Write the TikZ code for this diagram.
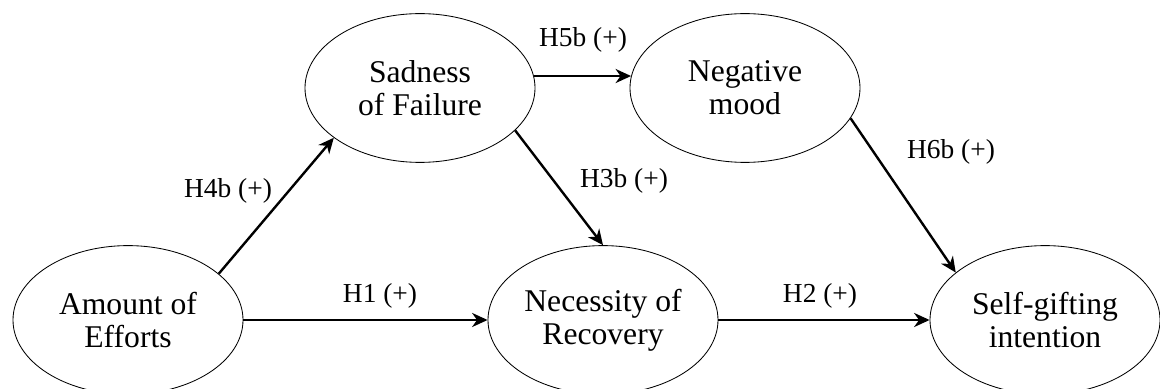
\documentclass[tikz,border=0pt]{standalone}
\usepackage{fontspec}
\setmainfont{Liberation Serif}
\usepackage{xcolor}
\usepackage{tikz}
\usetikzlibrary{arrows.meta,shapes.geometric}

\begin{document}
\begin{tikzpicture}[
    construct/.style={draw=black,line width=0.6pt,ellipse,inner sep=0pt,
                      minimum width=57.5mm,minimum height=37.2mm,align=center,
                      font=\fontsize{22.5}{23.5}\selectfont},
    hyp/.style={anchor=base,inner sep=0pt,font=\fontsize{19.5}{20}\selectfont},
    ar/.style={-{Stealth[length=11pt,width=10pt,inset=3.5pt]},line width=1.7pt}
  ]
    \useasboundingbox (0,0) rectangle (29,9.725);

    \node[construct] (amount)    at (3.2,1.725)    {Amount of\\Efforts};
    \node[construct] (sadness)   at (10.5,7.525)   {Sadness\\of Failure};
    \node[construct] (negative)  at (18.625,7.525) {Negative\\mood};
    \node[construct] (necessity) at (15.075,1.725) {Necessity of\\Recovery};
    \node[construct] (selfgift)  at (26.125,1.725) {Self-gifting\\intention};

    \draw[ar] (amount.27)    -- (sadness.210);
    \draw[ar] (amount.east)  -- (necessity.west);
    \draw[ar] (sadness.6)    -- (negative.174);
    \draw[ar] (sadness.-24)  -- (necessity.north);
    \draw[ar] (necessity.east) -- (selfgift.west);
    \draw[ar] (negative.-16) -- (selfgift.152);

    \node[hyp] (h4b) at (5.7,4.775)    {H4b (+)};
    \node[hyp] (h1)  at (9.5,2.15)     {H1 (+)};
    \node[hyp] (h5b) at (14.575,8.55)  {H5b (+)};
    \node[hyp] (h3b) at (15.6,5.025)   {H3b (+)};
    \node[hyp] (h2)  at (20.5,2.15)    {H2 (+)};
    \node[hyp] (h6b) at (23.775,5.75)  {H6b (+)};
  \end{tikzpicture}
\end{document}
